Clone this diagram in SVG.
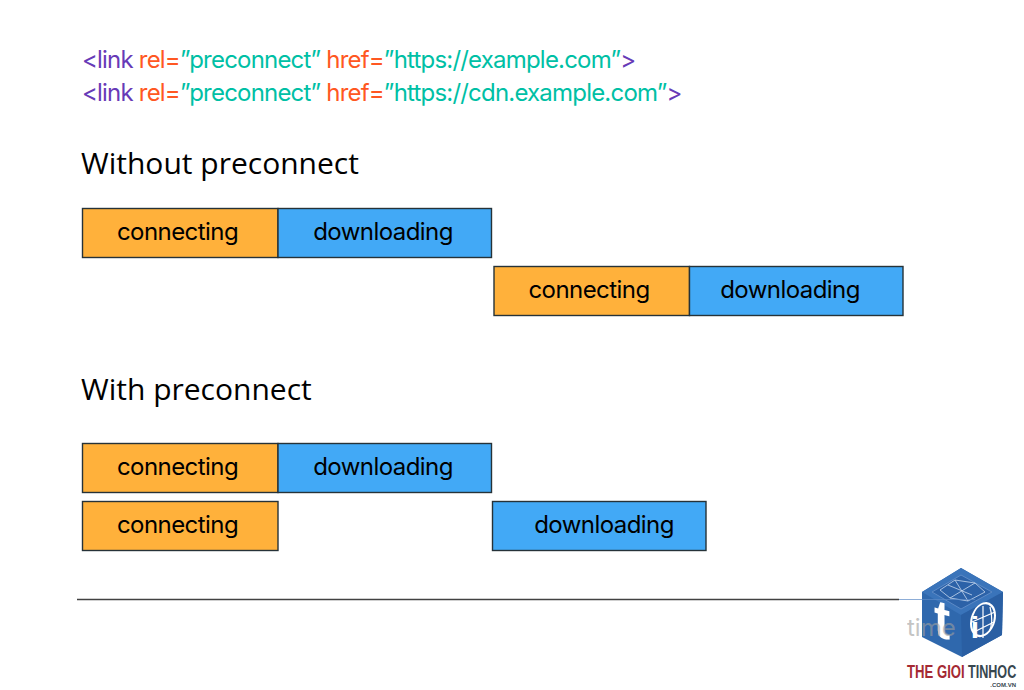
<svg xmlns="http://www.w3.org/2000/svg" width="1024" height="690" viewBox="0 0 1024 690">
<style>
.code{font:24px "Inter","Roboto",sans-serif;letter-spacing:-.8px}
.p{fill:#673ab7}.o{fill:#ff5722}.t{fill:#00bfa5}
.h{font:30px "Open Sans",sans-serif;fill:#000}
.b{stroke:#263238;stroke-width:1.4}
.c{fill:#ffb13b}.d{fill:#42a9f6}
.l{font:24px "Inter","Roboto",sans-serif;fill:#000;text-anchor:middle;letter-spacing:-.55px}
.m{font-family:"Liberation Sans",sans-serif;font-weight:700}
</style>
<rect width="1024" height="690" fill="#fff"/>
<g id="code">
<text class="code" x="82" y="67.500"><tspan class="p">&lt;link </tspan><tspan class="o">rel=</tspan><tspan class="t">”preconnect” </tspan><tspan class="o">href=</tspan><tspan class="t">”https://example.com”</tspan><tspan class="p">&gt;</tspan></text>
<text class="code" x="82" y="100.500"><tspan class="p">&lt;link </tspan><tspan class="o">rel=</tspan><tspan class="t">”preconnect” </tspan><tspan class="o">href=</tspan><tspan class="t">”https://cdn.example.com”</tspan><tspan class="p">&gt;</tspan></text>
</g>
<text class="h" x="81" y="174">Without preconnect</text>
<text class="h" x="81" y="399.500">With preconnect</text>
<g id="n1"><rect class="b c" x="82.500" y="208.500" width="195.500" height="49"/><text class="l" x="177.500" y="240">connecting</text></g>
<g id="n2"><rect class="b d" x="278" y="208.500" width="213.500" height="49"/><text class="l" x="383" y="240">downloading</text></g>
<g id="n3"><rect class="b c" x="494" y="266.500" width="195.500" height="49"/><text class="l" x="589" y="298">connecting</text></g>
<g id="n4"><rect class="b d" x="689.500" y="266.500" width="213.500" height="49"/><text class="l" x="790" y="298">downloading</text></g>
<g id="n5"><rect class="b c" x="82.500" y="443.500" width="195.500" height="49"/><text class="l" x="177.500" y="475">connecting</text></g>
<g id="n6"><rect class="b d" x="278" y="443.500" width="213.500" height="49"/><text class="l" x="383" y="475">downloading</text></g>
<g id="n7"><rect class="b c" x="82.500" y="501.500" width="195.500" height="49"/><text class="l" x="177.500" y="533">connecting</text></g>
<g id="n8"><rect class="b d" x="492.500" y="501.500" width="213.500" height="49"/><text class="l" x="604" y="533">downloading</text></g>
<g id="connectors"><path d="M77 599.500H899" stroke="#424242" stroke-width="1.500" fill="none"/></g>
<g id="logo">
<path d="M961 568L1003 592L1002 635L962 657L922 637L922 592Z" fill="#2f68ad"/>
<path d="M961 568L1003 592L961 615L922 592Z" fill="#3a74ba"/>
<path d="M961 615L1003 592L1002 635L962 657Z" fill="#2a5fa3"/>
<path d="M961 575L992 592L961 609L932 592Z" fill="#2c62a8" stroke="#5c8ac6" stroke-width="1"/>
<path d="M940 590L955 580L975 583L985 592L968 601L950 598ZM955 580L968 601M975 583L950 598M948 585L972 595" fill="none" stroke="#c5d7ee" stroke-width=".8"/>
<path d="M899 599.500H975" stroke="#5c8ac6" stroke-width="1" opacity=".7" fill="none"/>
<text class="m" transform="translate(942 638) skewY(14) scale(.9 1)" font-size="54" fill="#fff" text-anchor="middle">t</text>
<ellipse cx="983" cy="620" rx="12" ry="16" fill="none" stroke="#fff" stroke-width="2" transform="skewY(-18) translate(0 319)"/>
<path d="M972 622L995 612M974 632L994 622M983 606V638M990 607Q994 622 989 632" fill="none" stroke="#fff" stroke-width="1.200"/>
<text class="m" x="975" y="638" font-size="30" fill="#fff" text-anchor="middle">i</text>
<text class="m" transform="translate(907 678) scale(.73 1)" font-size="18" fill="#a52a33">THE GIOI</text>
<text class="m" transform="translate(968 678) scale(.7 1)" font-size="18" fill="#37474f">TINHOC</text>
<text class="m" x="1016" y="686.500" font-size="6" fill="#37474f" text-anchor="end">.COM.VN</text>
</g>
<text x="907" y="636" font-family="Inter,Roboto,sans-serif" font-size="24" fill="#9e9e9e" opacity=".6">time</text>
</svg>
